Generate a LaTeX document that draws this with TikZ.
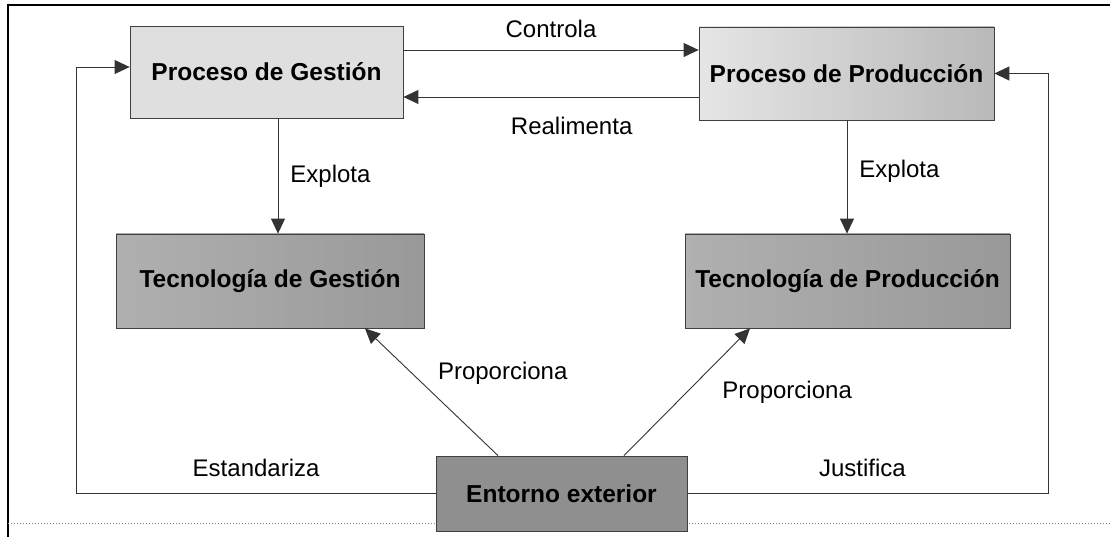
\documentclass[tikz,border=0pt]{standalone}
\usepackage{fontspec}
\setmainfont{Liberation Sans}
\usepackage{xcolor}
\usepackage{tikz}
\usetikzlibrary{arrows.meta,positioning}

\begin{document}
\begin{tikzpicture}[
    x=1pt, y=-1pt,
    font=\fontsize{24}{28}\selectfont,
    box/.style={
        draw=black!75,
        line width=0.8pt,
        align=center,
        font=\fontsize{24.5}{28}\selectfont\bfseries,
        inner sep=0pt
    },
    procbox/.style={box, fill=gray!25},
    prodbox/.style={box, left color=gray!20, right color=gray!55},
    tecbox/.style={box, left color=gray!62, right color=gray!80},
    envbox/.style={box, fill=gray!88},
    arrow/.style={-{Triangle[length=15pt,width=14pt]}, line width=0.9pt, draw=black!80},
    lbl/.style={inner sep=0pt}
]
\useasboundingbox (0,0) rectangle (1110,537);
\draw[line width=1.5pt] (8,537) -- (8,5) -- (1110,5);
\draw[gray, dotted, line width=1pt] (8,523) -- (1110,523);

\node[procbox, minimum width=273pt, minimum height=92pt] (gestion) at (266.5,72) {Proceso de Gestión};
\node[prodbox, minimum width=295pt, minimum height=93pt] (produccion) at (846.5,73.5) {Proceso de Producción};
\node[tecbox, minimum width=308pt, minimum height=94pt] (tecgestion) at (270,281) {Tecnología de Gestión};
\node[tecbox, minimum width=325pt, minimum height=94pt] (tecproduccion) at (847.5,281) {Tecnología de Producción};
\node[envbox, minimum width=251pt, minimum height=75pt] (entorno) at (561.5,493.5) {Entorno exterior};

% between the two processes
\draw[arrow] (gestion.east |- 0,50) -- node[lbl, above=12pt] (controla) {Controla} (produccion.west |- 0,50);
\draw[arrow] (produccion.west |- 0,97) -- node[lbl, pos=0.43, below=20pt] (realimenta) {Realimenta} (gestion.east |- 0,97);

% processes use the technologies
\draw[arrow] (gestion.south -| 278,0) -- node[lbl, right=12pt] (explotag) {Explota} (tecgestion.north -| 278,0);
\draw[arrow] (produccion.south -| 847,0) -- node[lbl, right=12pt, pos=0.45] (explotap) {Explota} (tecproduccion.north -| 847,0);

% the environment
\draw[arrow] (entorno.north -| 498,0) -- node[lbl, pos=0.65, right=26pt] (propg) {Proporciona} (tecgestion.south -| 365,0);
\draw[arrow] (entorno.north -| 624,0) -- node[lbl, pos=0.5, right=35pt] (propp) {Proporciona} (tecproduccion.south -| 750,0);
\draw[arrow] (entorno.west) -- ++(-359,0) node[lbl, pos=0.5, above=16pt] (estandariza) {Estandariza}
    |- ([yshift=5pt]gestion.west);
\draw[arrow] (entorno.east) -- ++(361,0) node[lbl, pos=0.485, above=16pt] (justifica) {Justifica}
    |- (produccion.east);
\end{tikzpicture}
\end{document}
